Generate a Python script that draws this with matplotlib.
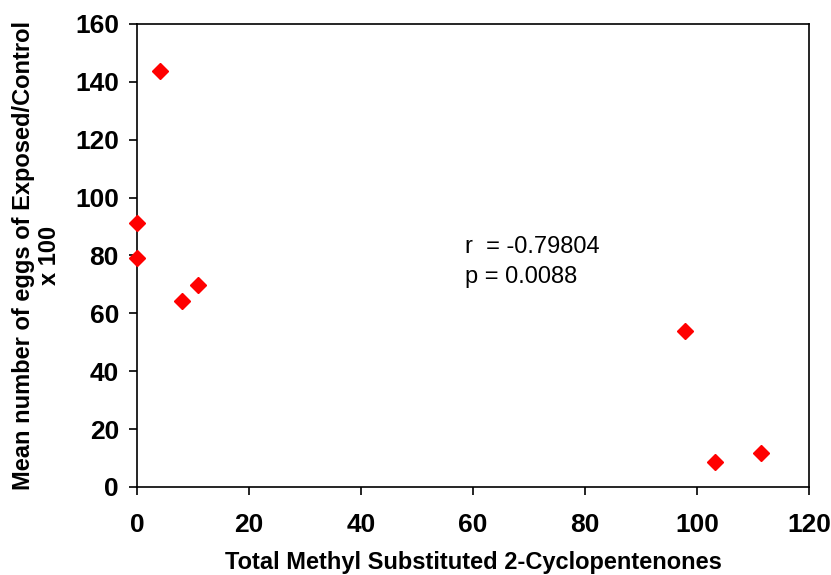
import matplotlib.pyplot as plt

# dados
total_mcp = [4.1, 0.0, 0.0, 8.0, 10.9, 97.9, 103.2, 111.5]
ovos_pct = [143.7, 91.4, 79.1, 64.3, 69.8, 54.0, 8.6, 11.6]
x_ticks = [0, 20, 40, 60, 80, 100, 120]
y_ticks = [0, 20, 40, 60, 80, 100, 120, 140, 160]

plt.rcParams['font.family'] = ['Liberation Sans', 'DejaVu Sans']

fig = plt.figure(figsize=(8.31, 5.75), dpi=100)
ax = fig.add_axes([137 / 831, 1 - 487 / 575, (809 - 137) / 831, (487 - 24) / 575])

ax.plot(total_mcp, ovos_pct, linestyle='none', marker='D', color='#ff0000',
        markersize=8.5, clip_on=False, zorder=3)

ax.set_xlim(0, 120)
ax.set_ylim(0, 160)
ax.set_xticks(x_ticks)
ax.set_yticks(y_ticks)
ax.tick_params(direction='out', length=6, width=1.2, labelsize=19)
ax.tick_params(axis='x', pad=13)
ax.tick_params(axis='y', pad=7)
for lbl in ax.get_xticklabels() + ax.get_yticklabels():
    lbl.set_fontweight('bold')
for s in ax.spines.values():
    s.set_linewidth(1.2)

ax.set_xlabel('Total Methyl Substituted 2-Cyclopentenones', fontsize=17,
              fontweight='bold', labelpad=10)
ax.set_ylabel('Mean number of eggs of Exposed/Control\nx 100', fontsize=17,
              fontweight='bold', labelpad=10, linespacing=1.15)

ax.text(0.488, 0.486, 'r  = -0.79804\np = 0.0088', transform=ax.transAxes,
        fontsize=17, va='center', ha='left', linespacing=1.45)

plt.savefig('out.png', dpi=100)
